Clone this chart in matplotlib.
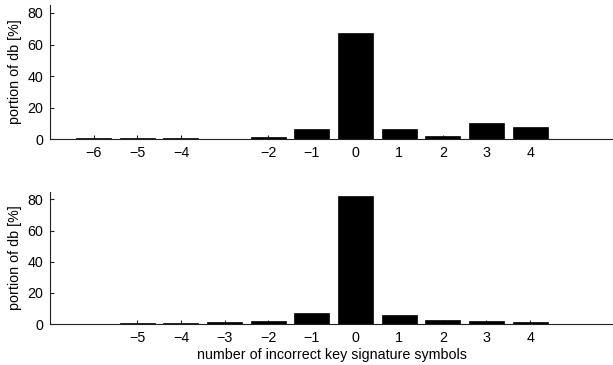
import matplotlib
matplotlib.use('Agg')
import matplotlib.pyplot as plt

plt.rcParams['font.family'] = ['Liberation Sans', 'DejaVu Sans']
plt.rcParams['font.size'] = 10.3

# number of incorrect key signature symbols vs portion of db [%]
top_x = [-6, -5, -4, -2, -1, 0, 1, 2, 3, 4]
top_y = [0.6, 0.6, 0.6, 1.5, 6.4, 67.6, 6.4, 1.9, 10.0, 7.4]

bottom_x = [-5, -4, -3, -2, -1, 0, 1, 2, 3, 4]
bottom_y = [0.6, 0.6, 1.3, 1.9, 7.0, 81.9, 5.8, 2.6, 1.9, 1.3]

yticks = [0, 20, 40, 60, 80]


def style_axis(ax, xs):
    ax.set_xlim(-7, 5.9)
    ax.set_ylim(0, 85)
    ax.set_xticks(xs)
    ax.set_xticklabels(['\u2212%d' % -v if v < 0 else str(v) for v in xs])
    ax.set_yticks(yticks)
    ax.spines['top'].set_visible(False)
    ax.spines['right'].set_visible(False)
    for s in ('left', 'bottom'):
        ax.spines[s].set_linewidth(0.8)
        ax.spines[s].set_color('#222222')
    ax.tick_params(direction='in', length=3, width=0.8, colors='#222222',
                   labelcolor='black', pad=5)
    ax.set_ylabel('portion of db [%]', labelpad=4)


fig = plt.figure(figsize=(6.13, 3.65), dpi=100)
ax1 = fig.add_axes([0.0816, 0.619, 0.9184, 0.367])
ax2 = fig.add_axes([0.0816, 0.112, 0.9184, 0.363])

ax1.bar(top_x, top_y, 0.8, color='black', edgecolor='black', linewidth=0.5, zorder=3)
ax2.bar(bottom_x, bottom_y, 0.8, color='black', edgecolor='black', linewidth=0.5, zorder=3)

style_axis(ax1, top_x)
style_axis(ax2, bottom_x)
ax2.set_xlabel('number of incorrect key signature symbols', labelpad=2)

fig.savefig('out.png', dpi=100)
